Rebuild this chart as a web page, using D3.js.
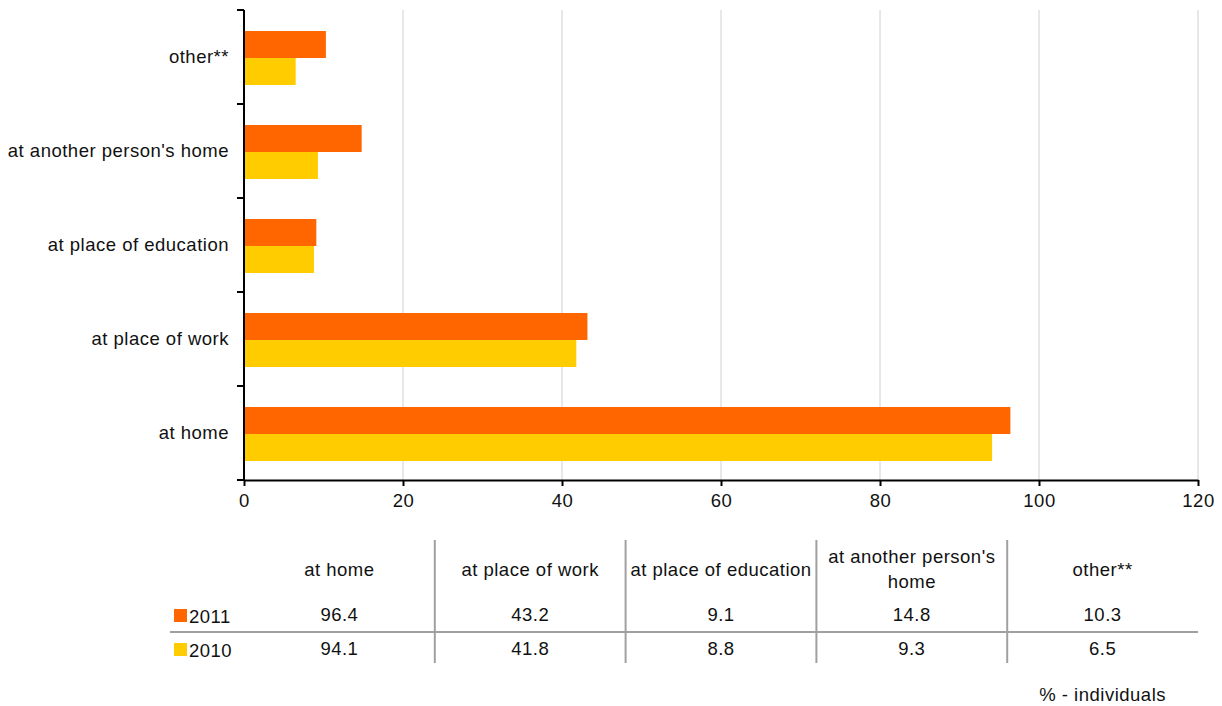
<!DOCTYPE html>
<html>
<head>
<meta charset="utf-8">
<script src="https://cdn.jsdelivr.net/npm/d3@7"></script>
<style>
  html, body { margin: 0; padding: 0; background: #fff; }
  svg { display: block; font-family: "Liberation Sans", Arial, Helvetica, sans-serif; }
  svg text { letter-spacing: 0.5px; }
</style>
</head>
<body>
<svg id="chart" width="1222" height="706"></svg>
<script>
// Places of Internet use, share of individuals (%)
const categories = ["at home", "at place of work", "at place of education", "at another person's home", "other**"];
const tableHeaders = [["at home"], ["at place of work"], ["at place of education"], ["at another person's", "home"], ["other**"]];
const seriesNames = ["2011", "2010"];
const values2011 = [96.4, 43.2, 9.1, 14.8, 10.3];
const values2010 = [94.1, 41.8, 8.8, 9.3, 6.5];
const xTicks = [0, 20, 40, 60, 80, 100, 120];
const colors = ["#FF6600", "#FFCC00"];
const unitNote = "% - individuals";

(function draw() {
  const svg = d3.select("#chart");
  const plotL = 244, plotR = 1198, plotT = 10, plotB = 480;
  const fs = 18.5, ink = "#111";

  const x = d3.scaleLinear().domain([0, 120]).range([plotL, plotR]);
  // "at home" at the bottom, "other**" on top
  const y = d3.scaleBand().domain(categories.slice().reverse()).range([plotT, plotB]).padding(0);
  const sub = d3.scaleBand().domain(seriesNames).range([21, y.bandwidth() - 19]);

  // vertical gridlines
  svg.append("g").selectAll("line").data(xTicks.filter(d => d > 0)).join("line")
    .attr("x1", d => x(d)).attr("x2", d => x(d))
    .attr("y1", plotT).attr("y2", plotB)
    .attr("stroke", "#d0d0d0").attr("stroke-width", 1);

  // bars
  const series = [values2011, values2010];
  const barG = svg.append("g");
  series.forEach((vals, si) => {
    barG.selectAll(null).data(categories).join("rect")
      .attr("x", x(0))
      .attr("y", c => y(c) + sub(seriesNames[si]))
      .attr("width", (c, i) => x(vals[i]) - x(0))
      .attr("height", sub.bandwidth())
      .attr("fill", colors[si]);
  });

  // x axis
  const xAxis = svg.append("g").attr("transform", `translate(0,${plotB})`)
    .call(d3.axisBottom(x).tickValues(xTicks).tickSize(6).tickSizeOuter(0).tickPadding(8));
  xAxis.select(".domain").attr("stroke", "#000").attr("stroke-width", 2);
  xAxis.selectAll(".tick line").attr("stroke", "#000").attr("stroke-width", 2);
  xAxis.selectAll("text").attr("font-size", fs).attr("fill", ink)
    .attr("font-family", "Liberation Sans, Arial, sans-serif");

  // y axis: ticks at band boundaries, labels in band centres
  const yAxisG = svg.append("g");
  yAxisG.append("line").attr("x1", plotL).attr("x2", plotL).attr("y1", plotT).attr("y2", plotB + 1)
    .attr("stroke", "#000").attr("stroke-width", 2);
  const bounds = categories.map(c => y(c)).concat([plotB]);
  yAxisG.selectAll(".yt").data(bounds).join("line")
    .attr("x1", plotL - 7).attr("x2", plotL)
    .attr("y1", d => d).attr("y2", d => d)
    .attr("stroke", "#000").attr("stroke-width", 2);
  yAxisG.selectAll("text").data(categories).join("text")
    .attr("x", plotL - 15)
    .attr("y", c => y(c) + y.bandwidth() / 2)
    .attr("dy", "0.35em")
    .attr("text-anchor", "end")
    .attr("font-size", fs).attr("fill", ink)
    .text(c => c);

  // data table below the chart
  const colW = (plotR - plotL) / categories.length;
  const tbl = svg.append("g");
  const gray = "#a0a0a0";
  for (let i = 1; i < categories.length; i++) {
    tbl.append("line").attr("x1", plotL + i * colW).attr("x2", plotL + i * colW)
      .attr("y1", 540).attr("y2", 663).attr("stroke", gray).attr("stroke-width", 2);
  }
  tbl.append("line").attr("x1", 170).attr("x2", plotR).attr("y1", 632).attr("y2", 632)
    .attr("stroke", gray).attr("stroke-width", 2);

  tableHeaders.forEach((lines, i) => {
    const cx = plotL + (i + 0.5) * colW;
    const startY = lines.length === 1 ? 576 : 563;
    lines.forEach((ln, j) => {
      tbl.append("text").attr("x", cx).attr("y", startY + j * 25)
        .attr("text-anchor", "middle").attr("font-size", fs).attr("fill", ink).text(ln);
    });
  });

  const rowY = [623, 657];
  series.forEach((vals, si) => {
    tbl.append("rect").attr("x", 174).attr("y", rowY[si] - 14).attr("width", 13).attr("height", 13)
      .attr("fill", colors[si]);
    tbl.append("text").attr("x", 189).attr("y", rowY[si]).attr("font-size", fs).attr("fill", ink)
      .text(seriesNames[si]);
    vals.forEach((v, i) => {
      tbl.append("text").attr("x", plotL + (i + 0.5) * colW).attr("y", rowY[si] - 2)
        .attr("text-anchor", "middle").attr("font-size", fs).attr("fill", ink).text(v.toFixed(1));
    });
  });

  svg.append("text").attr("x", 1166).attr("y", 701).attr("text-anchor", "end")
    .attr("font-size", fs).attr("fill", ink).text(unitNote);
})();
</script>
</body>
</html>
